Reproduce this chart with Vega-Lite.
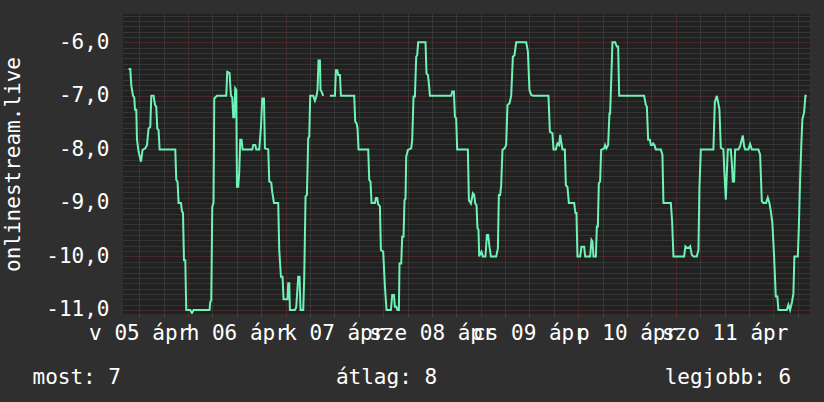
{
  "$schema": "https://vega.github.io/schema/vega-lite/v6.json",
  "width": 687,
  "height": 300,
  "autosize": {"type": "none"},
  "padding": {"left": 123, "top": 14, "right": 14, "bottom": 88},
  "background": "#2f2f2f",
  "config": {
    "view": {"fill": "#212121", "stroke": null},
    "font": "DejaVu Sans Mono"
  },
  "data": {
    "values": [
      {"h":9.39,"v":-6.5,"s":1},{"h":9.81,"v":-6.5,"s":1},{"h":10.06,"v":-6.8,"s":1},{"h":10.48,"v":-7.0,"s":1},{"h":10.79,"v":-7.03,"s":1},{"h":10.97,"v":-7.26,"s":1},{"h":11.29,"v":-7.26,"s":1},{"h":11.46,"v":-7.82,"s":1},{"h":11.85,"v":-8.04,"s":1},{"h":12.44,"v":-8.23,"s":1},{"h":12.84,"v":-8.01,"s":1},{"h":13.5,"v":-7.98,"s":1},{"h":13.92,"v":-7.92,"s":1},{"h":14.31,"v":-7.61,"s":1},{"h":14.73,"v":-7.58,"s":1},{"h":14.98,"v":-7.0,"s":1},{"h":15.54,"v":-7.0,"s":1},{"h":15.89,"v":-7.17,"s":1},{"h":16.2,"v":-7.2,"s":1},{"h":16.45,"v":-7.61,"s":1},{"h":16.77,"v":-7.64,"s":1},{"h":17.02,"v":-8.0,"s":1},{"h":20.88,"v":-8.0,"s":1},{"h":21.12,"v":-8.57,"s":1},{"h":21.44,"v":-8.6,"s":1},{"h":21.69,"v":-9.0,"s":1},{"h":22.28,"v":-9.0,"s":1},{"h":22.52,"v":-9.16,"s":1},{"h":22.77,"v":-9.18,"s":1},{"h":23.02,"v":-10.07,"s":1},{"h":23.34,"v":-10.07,"s":1},{"h":23.58,"v":-11.0,"s":1},{"h":24.57,"v":-11.0,"s":1},{"h":24.98,"v":-11.06,"s":1},{"h":25.38,"v":-11.0,"s":1},{"h":29.31,"v":-11.0,"s":1},{"h":29.48,"v":-10.85,"s":1},{"h":29.73,"v":-10.82,"s":1},{"h":29.98,"v":-9.07,"s":1},{"h":30.29,"v":-9.0,"s":1},{"h":30.47,"v":-7.05,"s":1},{"h":31.13,"v":-7.0,"s":1},{"h":33.42,"v":-7.0,"s":1},{"h":33.66,"v":-6.55,"s":1},{"h":34.23,"v":-6.57,"s":1},{"h":34.57,"v":-7.0,"s":1},{"h":34.89,"v":-7.03,"s":1},{"h":35.14,"v":-7.4,"s":1},{"h":35.38,"v":-7.4,"s":1},{"h":35.63,"v":-6.86,"s":1},{"h":35.88,"v":-6.89,"s":1},{"h":36.05,"v":-8.7,"s":1},{"h":36.37,"v":-8.7,"s":1},{"h":36.61,"v":-8.42,"s":1},{"h":36.86,"v":-7.82,"s":1},{"h":37.18,"v":-7.82,"s":1},{"h":37.43,"v":-8.0,"s":1},{"h":39.81,"v":-8.0,"s":1},{"h":40.06,"v":-7.92,"s":1},{"h":40.55,"v":-7.92,"s":1},{"h":40.8,"v":-8.0,"s":1},{"h":41.53,"v":-8.0,"s":1},{"h":41.95,"v":-7.58,"s":1},{"h":42.27,"v":-7.05,"s":1},{"h":42.69,"v":-7.05,"s":1},{"h":42.93,"v":-7.98,"s":1},{"h":43.75,"v":-8.0,"s":1},{"h":43.99,"v":-8.6,"s":1},{"h":44.48,"v":-8.62,"s":1},{"h":44.73,"v":-8.8,"s":1},{"h":45.15,"v":-9.0,"s":1},{"h":46.2,"v":-9.0,"s":1},{"h":46.45,"v":-9.88,"s":1},{"h":46.87,"v":-10.38,"s":1},{"h":47.26,"v":-10.38,"s":1},{"h":47.51,"v":-10.8,"s":1},{"h":48.49,"v":-10.8,"s":1},{"h":48.66,"v":-10.5,"s":1},{"h":48.91,"v":-10.5,"s":1},{"h":49.08,"v":-11.0,"s":1},{"h":50.31,"v":-11.0,"s":1},{"h":50.63,"v":-10.95,"s":1},{"h":51.12,"v":-10.38,"s":1},{"h":51.44,"v":-10.38,"s":1},{"h":51.69,"v":-11.0,"s":1},{"h":52.35,"v":-11.0,"s":1},{"h":52.6,"v":-10.38,"s":1},{"h":52.92,"v":-8.88,"s":1},{"h":53.26,"v":-8.85,"s":1},{"h":53.58,"v":-7.79,"s":1},{"h":53.83,"v":-7.76,"s":1},{"h":54.07,"v":-7.0,"s":1},{"h":54.81,"v":-7.0,"s":1},{"h":55.23,"v":-7.09,"s":1},{"h":55.62,"v":-7.0,"s":1},{"h":55.87,"v":-6.89,"s":1},{"h":56.11,"v":-6.34,"s":1},{"h":56.46,"v":-6.34,"s":1},{"h":56.61,"v":-6.89,"s":1},{"h":56.85,"v":-6.92,"s":1},{"h":57.27,"v":-7.0,"s":1},
      {"h":58.92,"v":-7.0,"s":2},{"h":60.15,"v":-7.0,"s":2},{"h":60.39,"v":-6.52,"s":2},{"h":60.71,"v":-6.52,"s":2},{"h":60.96,"v":-6.61,"s":2},{"h":61.38,"v":-6.61,"s":2},{"h":61.62,"v":-7.0,"s":2},{"h":64.89,"v":-7.0,"s":2},{"h":65.14,"v":-7.48,"s":2},{"h":65.46,"v":-7.51,"s":2},{"h":65.7,"v":-7.6,"s":2},{"h":65.95,"v":-8.0,"s":2},{"h":68.34,"v":-8.0,"s":2},{"h":68.58,"v":-8.57,"s":2},{"h":68.9,"v":-8.6,"s":2},{"h":69.15,"v":-9.0,"s":2},{"h":69.98,"v":-9.0,"s":2},{"h":70.23,"v":-8.91,"s":2},{"h":70.55,"v":-8.91,"s":2},{"h":70.79,"v":-9.03,"s":2},{"h":71.21,"v":-9.06,"s":2},{"h":71.46,"v":-9.88,"s":2},{"h":72.02,"v":-9.91,"s":2},{"h":72.44,"v":-10.56,"s":2},{"h":72.84,"v":-11.0,"s":2},{"h":73.92,"v":-11.0,"s":2},{"h":74.24,"v":-10.72,"s":2},{"h":74.66,"v":-10.72,"s":2},{"h":74.9,"v":-10.94,"s":2},{"h":75.22,"v":-10.94,"s":2},{"h":75.54,"v":-11.0,"s":2},{"h":75.88,"v":-11.0,"s":2},{"h":76.03,"v":-10.13,"s":2},{"h":76.45,"v":-10.13,"s":2},{"h":76.7,"v":-9.63,"s":2},{"h":77.02,"v":-9.63,"s":2},{"h":77.26,"v":-8.95,"s":2},{"h":77.51,"v":-8.92,"s":2},{"h":77.68,"v":-8.14,"s":2},{"h":78.1,"v":-8.01,"s":2},{"h":78.91,"v":-7.98,"s":2},{"h":79.16,"v":-7.82,"s":2},{"h":79.48,"v":-7.01,"s":2},{"h":79.82,"v":-7.01,"s":2},{"h":80.14,"v":-6.27,"s":2},{"h":80.38,"v":-6.24,"s":2},{"h":80.63,"v":-6.0,"s":2},{"h":82.43,"v":-6.0,"s":2},{"h":82.67,"v":-6.58,"s":2},{"h":83.02,"v":-6.61,"s":2},{"h":83.26,"v":-6.77,"s":2},{"h":83.51,"v":-7.0,"s":2},{"h":88.75,"v":-7.0,"s":2},{"h":88.99,"v":-6.92,"s":2},{"h":89.41,"v":-6.92,"s":2},{"h":89.66,"v":-7.39,"s":2},{"h":89.97,"v":-7.42,"s":2},{"h":90.22,"v":-8.0,"s":2},{"h":92.85,"v":-8.0,"s":2},{"h":93.1,"v":-8.95,"s":2},{"h":93.59,"v":-9.01,"s":2},{"h":94.08,"v":-8.82,"s":2},{"h":94.4,"v":-8.85,"s":2},{"h":94.65,"v":-9.01,"s":2},{"h":94.97,"v":-9.04,"s":2},{"h":95.21,"v":-9.47,"s":2},{"h":95.46,"v":-9.5,"s":2},{"h":95.63,"v":-10.0,"s":2},{"h":95.95,"v":-9.94,"s":2},{"h":96.2,"v":-9.91,"s":2},{"h":96.54,"v":-10.0,"s":2},{"h":97.18,"v":-10.0,"s":2},{"h":97.52,"v":-9.6,"s":2},{"h":97.84,"v":-9.6,"s":2},{"h":98.16,"v":-9.82,"s":2},{"h":98.51,"v":-10.0,"s":2},{"h":99.81,"v":-10.0,"s":2},{"h":100.23,"v":-9.85,"s":2},{"h":100.47,"v":-8.85,"s":2},{"h":100.79,"v":-8.85,"s":2},{"h":101.04,"v":-8.67,"s":2},{"h":101.36,"v":-8.01,"s":2},{"h":101.85,"v":-7.98,"s":2},{"h":102.27,"v":-7.92,"s":2},{"h":102.59,"v":-7.17,"s":2},{"h":103.08,"v":-7.14,"s":2},{"h":103.5,"v":-7.0,"s":2},{"h":103.92,"v":-6.27,"s":2},{"h":104.31,"v":-6.24,"s":2},{"h":104.73,"v":-6.0,"s":2},{"h":107.19,"v":-6.0,"s":2},{"h":107.61,"v":-6.17,"s":2},{"h":108.0,"v":-6.89,"s":2},{"h":108.42,"v":-6.98,"s":2},{"h":108.84,"v":-7.0,"s":2},{"h":112.67,"v":-7.0,"s":2},{"h":113.02,"v":-7.67,"s":2},{"h":113.65,"v":-7.7,"s":2},{"h":113.9,"v":-8.0,"s":2},{"h":114.49,"v":-8.0,"s":2},{"h":114.88,"v":-7.89,"s":2},{"h":115.3,"v":-7.92,"s":2},{"h":115.55,"v":-7.73,"s":2},{"h":115.87,"v":-7.89,"s":2},{"h":116.11,"v":-8.0,"s":2},{"h":116.7,"v":-8.0,"s":2},{"h":116.95,"v":-8.67,"s":2},{"h":117.34,"v":-8.7,"s":2},{"h":117.69,"v":-9.0,"s":2},{"h":118.99,"v":-9.0,"s":2},{"h":119.31,"v":-9.19,"s":2},{"h":119.56,"v":-9.19,"s":2},{"h":119.8,"v":-10.0,"s":2},{"h":120.47,"v":-10.0,"s":2},{"h":120.79,"v":-9.82,"s":2},{"h":121.45,"v":-9.82,"s":2},{"h":121.7,"v":-10.0,"s":2},{"h":122.93,"v":-10.0,"s":2},{"h":123.25,"v":-9.69,"s":2},{"h":123.49,"v":-9.72,"s":2},{"h":123.74,"v":-10.0,"s":2},{"h":124.33,"v":-10.0,"s":2},{"h":124.57,"v":-9.44,"s":2},{"h":124.82,"v":-9.44,"s":2},{"h":125.06,"v":-8.63,"s":2},{"h":125.38,"v":-8.6,"s":2},{"h":125.63,"v":-8.01,"s":2},{"h":126.37,"v":-7.98,"s":2},{"h":126.61,"v":-7.92,"s":2},{"h":126.93,"v":-7.98,"s":2},{"h":127.35,"v":-7.92,"s":2},{"h":127.67,"v":-7.33,"s":2},{"h":127.84,"v":-7.33,"s":2},{"h":128.16,"v":-6.58,"s":2},{"h":128.41,"v":-6.0,"s":2},{"h":129.07,"v":-6.0,"s":2},{"h":129.49,"v":-6.08,"s":2},{"h":129.81,"v":-6.08,"s":2},{"h":130.06,"v":-7.0,"s":2},{"h":136.2,"v":-7.0,"s":2},{"h":136.62,"v":-7.17,"s":2},{"h":136.87,"v":-7.2,"s":2},{"h":137.19,"v":-7.82,"s":2},{"h":137.61,"v":-7.82,"s":2},{"h":137.85,"v":-7.92,"s":2},{"h":138.17,"v":-7.92,"s":2},{"h":138.42,"v":-7.89,"s":2},{"h":138.74,"v":-7.92,"s":2},{"h":139.08,"v":-8.0,"s":2},{"h":140.31,"v":-8.0,"s":2},{"h":140.7,"v":-8.1,"s":2},{"h":140.95,"v":-9.0,"s":2},{"h":142.77,"v":-9.0,"s":2},{"h":143.09,"v":-9.35,"s":2},{"h":143.41,"v":-10.0,"s":2},{"h":146.04,"v":-10.0,"s":2},{"h":146.36,"v":-9.81,"s":2},{"h":146.78,"v":-9.84,"s":2},{"h":147.2,"v":-9.84,"s":2},{"h":147.52,"v":-9.81,"s":2},{"h":147.93,"v":-9.97,"s":2},{"h":148.33,"v":-10.0,"s":2},{"h":149.16,"v":-10.0,"s":2},{"h":149.56,"v":-9.88,"s":2},{"h":149.8,"v":-8.72,"s":2},{"h":150.15,"v":-8.0,"s":2},{"h":153.24,"v":-8.0,"s":2},{"h":153.59,"v":-7.12,"s":2},{"h":154.08,"v":-7.0,"s":2},{"h":154.4,"v":-7.12,"s":2},{"h":154.72,"v":-7.25,"s":2},{"h":155.06,"v":-7.97,"s":2},{"h":155.7,"v":-8.0,"s":2},{"h":155.95,"v":-8.44,"s":2},{"h":156.29,"v":-8.94,"s":2},{"h":156.54,"v":-8.44,"s":2},{"h":156.79,"v":-8.0,"s":2},{"h":157.52,"v":-8.0,"s":2},{"h":157.77,"v":-8.25,"s":2},{"h":158.02,"v":-8.6,"s":2},{"h":158.33,"v":-8.6,"s":2},{"h":158.58,"v":-8.0,"s":2},{"h":159.39,"v":-8.0,"s":2},{"h":159.81,"v":-7.94,"s":2},{"h":160.23,"v":-7.81,"s":2},{"h":160.47,"v":-7.74,"s":2},{"h":160.79,"v":-7.94,"s":2},{"h":161.04,"v":-8.0,"s":2},{"h":161.85,"v":-8.0,"s":2},{"h":162.27,"v":-7.9,"s":2},{"h":162.69,"v":-8.0,"s":2},{"h":164.31,"v":-8.0,"s":2},{"h":164.73,"v":-8.1,"s":2},{"h":165.15,"v":-8.97,"s":2},{"h":165.54,"v":-9.0,"s":2},{"h":166.2,"v":-9.0,"s":2},{"h":166.62,"v":-8.9,"s":2},{"h":167.01,"v":-9.0,"s":2},{"h":167.43,"v":-9.19,"s":2},{"h":167.75,"v":-9.38,"s":2},{"h":168.17,"v":-10.0,"s":2},{"h":168.59,"v":-10.75,"s":2},{"h":168.98,"v":-10.75,"s":2},{"h":169.23,"v":-11.0,"s":2},{"h":171.29,"v":-11.0,"s":2},{"h":171.69,"v":-10.9,"s":2},{"h":172.1,"v":-11.0,"s":2},{"h":172.57,"v":-10.85,"s":2},{"h":172.92,"v":-10.69,"s":2},{"h":173.16,"v":-10.0,"s":2},{"h":174.0,"v":-10.0,"s":2},{"h":174.24,"v":-9.5,"s":2},{"h":174.56,"v":-8.59,"s":2},{"h":174.88,"v":-7.88,"s":2},{"h":175.12,"v":-7.44,"s":2},{"h":175.55,"v":-7.31,"s":2},{"h":175.87,"v":-7.0,"s":2},{"h":176.21,"v":-7.0,"s":2}
    ]
  },
  "mark": {"type": "line", "color": "#6ef2b6", "strokeWidth": 2, "clip": true},
  "encoding": {
    "x": {
      "field": "h",
      "type": "quantitative",
      "scale": {"domain": [8.02, 177.0], "nice": false, "zero": false},
      "axis": {
        "values": [12,18,24,30,36,42,48,54,60,66,72,78,84,90,96,102,108,114,120,126,132,138,144,150,156,162,168,174],
        "grid": true,
        "gridColor": {"condition": {"test": "datum.value % 24 == 0", "value": "#6e2e2e"}, "value": "#4a4a4a"},
        "gridDash": [1, 1],
        "gridWidth": 1,
        "ticks": true,
        "tickSize": 3,
        "tickColor": {"condition": {"test": "datum.value % 24 == 0", "value": "#6e2e2e"}, "value": "#4a4a4a"},
        "domain": false,
        "labelExpr": "datum.value % 24 == 12 ? ['v','h','k','sze','cs','p','szo'][floor(datum.value / 24)] + ' ' + (floor(datum.value / 24) + 5 < 10 ? '0' : '') + (floor(datum.value / 24) + 5) + ' ápr' : ''",
        "labelFont": "DejaVu Sans Mono",
        "labelFontSize": 21,
        "labelColor": "#ffffff",
        "labelPadding": 5,
        "labelOverlap": false,
        "labelBound": false,
        "labelFlush": false,
        "labelBaseline": "top",
        "title": "most: 7\u00a0\u00a0\u00a0\u00a0\u00a0\u00a0\u00a0\u00a0\u00a0\u00a0\u00a0\u00a0\u00a0\u00a0\u00a0\u00a0\u00a0átlag: 8\u00a0\u00a0\u00a0\u00a0\u00a0\u00a0\u00a0\u00a0\u00a0\u00a0\u00a0\u00a0\u00a0\u00a0\u00a0\u00a0\u00a0\u00a0legjobb: 6",
        "titleX": -91,
        "titleY": 69,
        "titleAlign": "left",
        "titleAnchor": "start",
        "titleBaseline": "alphabetic",
        "titleFont": "DejaVu Sans Mono",
        "titleFontSize": 21,
        "titleFontWeight": "normal",
        "titleColor": "#ffffff",
        "titleLimit": 1000
      }
    },
    "y": {
      "field": "v",
      "type": "quantitative",
      "scale": {"domain": [-11.075, -5.471], "nice": false, "zero": false},
      "axis": {
        "values": [-11,-10.9,-10.8,-10.7,-10.6,-10.5,-10.4,-10.3,-10.2,-10.1,-10,-9.9,-9.8,-9.7,-9.6,-9.5,-9.4,-9.3,-9.2,-9.1,-9,-8.9,-8.8,-8.7,-8.6,-8.5,-8.4,-8.3,-8.2,-8.1,-8,-7.9,-7.8,-7.7,-7.6,-7.5,-7.4,-7.3,-7.2,-7.1,-7,-6.9,-6.8,-6.7,-6.6,-6.5,-6.4,-6.3,-6.2,-6.1,-6,-5.9,-5.8,-5.7,-5.6,-5.5],
        "grid": true,
        "gridColor": {"condition": {"test": "abs(datum.value - round(datum.value)) < 0.001", "value": "#6e2e2e"}, "value": "#4a4a4a"},
        "gridDash": [1, 1],
        "gridWidth": 1,
        "ticks": false,
        "domain": false,
        "labelExpr": "abs(datum.value - round(datum.value)) < 0.001 ? '-' + abs(round(datum.value)) + ',0' : ''",
        "labelFont": "DejaVu Sans Mono",
        "labelFontSize": 21,
        "labelColor": "#ffffff",
        "labelPadding": 14,
        "labelOverlap": false,
        "labelBound": false,
        "labelFlush": false,
        "labelAlign": "right",
        "labelBaseline": "middle",
        "title": "onlinestream.live",
        "titleX": -104,
        "titleY": 150,
        "titleAngle": -90,
        "titleAlign": "center",
        "titleBaseline": "alphabetic",
        "titleFont": "DejaVu Sans Mono",
        "titleFontSize": 21,
        "titleFontWeight": "normal",
        "titleColor": "#ffffff"
      }
    },
    "detail": {"field": "s"}
  }
}
